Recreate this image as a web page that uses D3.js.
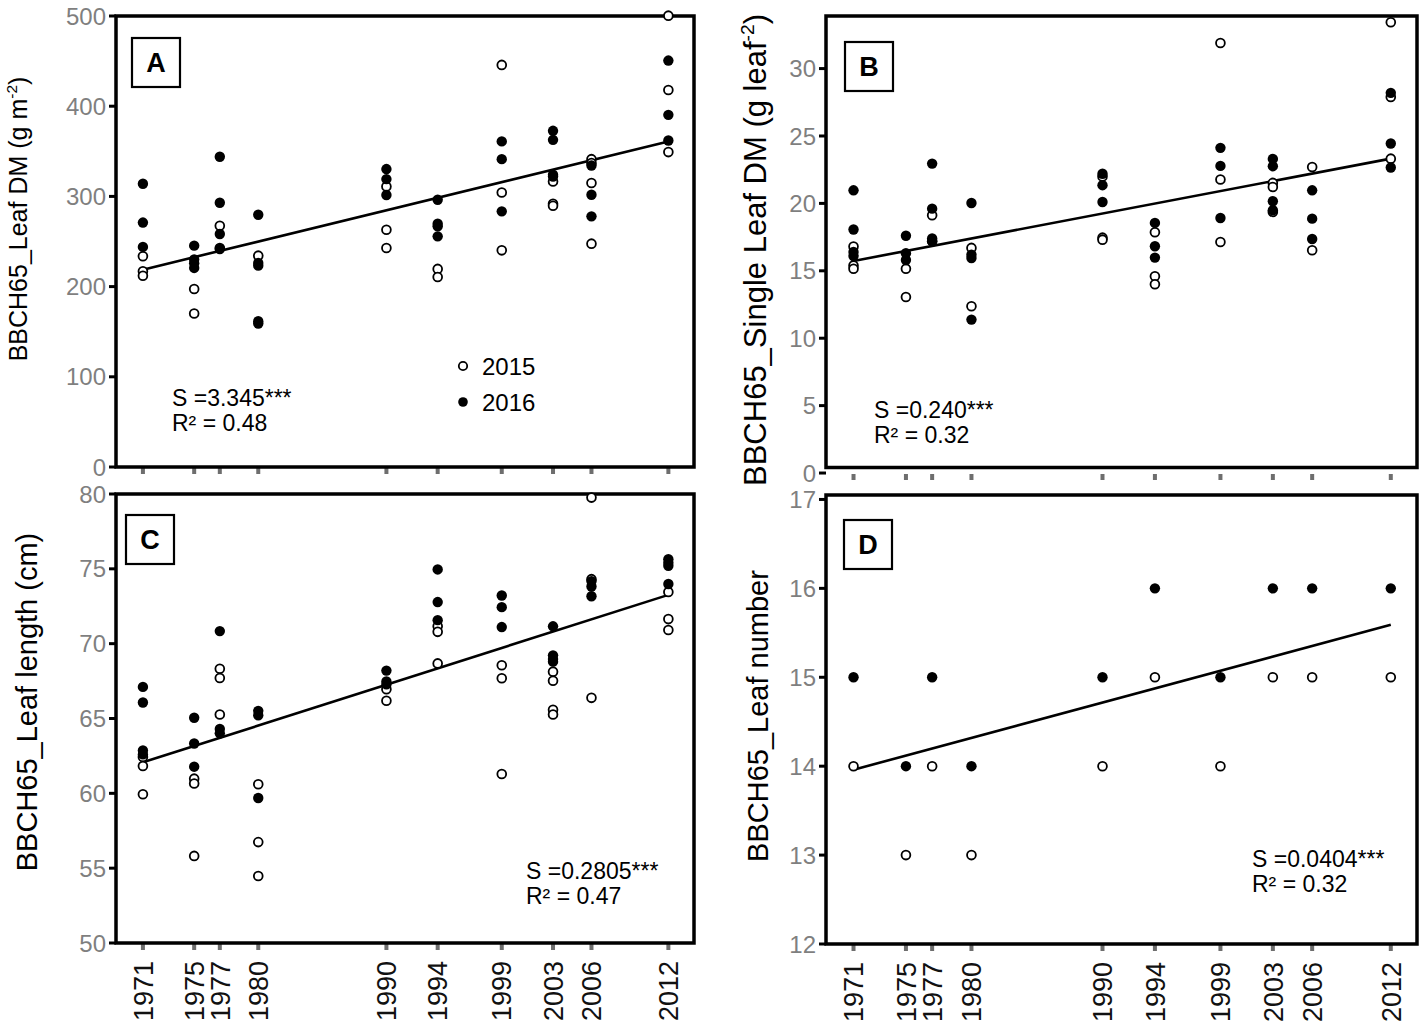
<!DOCTYPE html>
<html>
<head>
<meta charset="utf-8">
<script src="https://cdn.jsdelivr.net/npm/d3@7"></script>
<style>
  body { margin: 0; background: #fff; }
  text { font-family: "Liberation Sans", Arial, sans-serif; }
</style>
</head>
<body>
<svg id="chart"></svg>
<script>
const width = 1421;
const height = 1032;

// sampling years (x axis)
const years = [1971, 1975, 1977, 1980, 1990, 1994, 1999, 2003, 2006, 2012];

// A - leaf DM (g m-2), one list of replicates per year
const leafDM2015 = [[233.6, 217, 212], [197.4, 170.1], [267.5, 242.8], [234.3], [311, 263, 242.8],
  [219.6, 210.7], [445.8, 304.4, 240.2], [316.6, 291.9, 289.7], [341.3, 336.9, 314.8, 247.6], [500.4, 418, 349.1]];
const leafDM2016 = [[314, 271, 244], [245.4, 230, 226, 220.7], [344, 293, 258.3, 241.7], [279.7, 226.2, 223.2, 161.6, 159],
  [330.3, 319.2, 301.5], [296.3, 269.7, 266.8, 255.7], [361, 341.3, 283.4], [372.7, 362.7, 324, 322.1],
  [334.3, 301.8, 277.9], [450.6, 390.4, 362]];
const leafDMFit = [218.8, 360.9];

// B - single leaf DM
const singleDM2015 = [[16.8, 15.4, 15.15], [15.16, 13.06], [19.12, 17.2], [16.7, 12.37], [22.0, 17.46, 17.31],
  [17.86, 14.59, 14.0], [31.9, 21.77, 17.14], [21.52, 21.22, 19.37], [22.7, 16.52], [33.44, 27.9, 23.32]];
const singleDM2016 = [[20.97, 18.06, 16.4, 16.1], [17.6, 16.3, 15.8], [22.95, 19.61, 17.4, 17.2], [20.03, 16.2, 15.95, 11.38],
  [22.2, 21.35, 20.1], [18.55, 16.82, 15.98], [24.12, 22.78, 18.92], [23.3, 22.76, 20.16, 19.49],
  [20.97, 18.87, 17.36], [28.2, 24.44, 22.66]];
const singleDMFit = [15.73, 23.32];

// C - leaf length (cm)
const length2015 = [[62.43, 61.83, 59.94], [60.98, 60.66, 55.82], [68.32, 67.71, 65.27], [60.61, 56.74, 54.48],
  [66.96, 66.19], [71.16, 70.79, 68.68], [68.56, 67.69, 61.29], [68.13, 67.52, 65.58, 65.27],
  [79.76, 74.31, 66.38], [73.46, 71.64, 70.91]];
const length2016 = [[67.11, 66.07, 62.87, 62.6], [65.05, 63.33, 61.78], [70.84, 64.3, 64.01], [65.51, 65.22, 59.69],
  [68.2, 67.47, 67.28], [74.96, 72.78, 71.57], [73.22, 72.44, 71.11], [71.16, 69.22, 68.97, 68.8],
  [74.18, 73.82, 73.17], [75.64, 75.4, 75.2, 73.99]];
const lengthFit = [62.07, 73.26];

// D - leaf number
const number2015 = [[14], [13], [14], [13], [14], [15], [14], [15], [15], [15]];
const number2016 = [[15], [14], [15], [14], [15], [16], [15], [16], [16], [16]];
const numberFit = [13.96, 15.59];

const svg = d3.select("#chart").attr("width", width).attr("height", height);

const panels = [
  { letter: "A", left: 116, right: 694, top: 16, bottom: 467, yDomain: [0, 500], yTicks: [0, 100, 200, 300, 400, 500],
    open: leafDM2015, filled: leafDM2016, fit: leafDMFit, letterPos: [132, 38], markY: 471, yearLabels: false,
    title: ["BBCH65_Leaf DM (g m", "-2", ")"], titlePos: [27, 219], titleSize: 25,
    stat: ["S =3.345***", "R² = 0.48"], statPos: [172, 406] },
  { letter: "B", left: 826, right: 1417, top: 16, bottom: 467.5, yDomain: [0.41, 33.9], yTicks: [0, 5, 10, 15, 20, 25, 30],
    open: singleDM2015, filled: singleDM2016, fit: singleDMFit, letterPos: [845, 42], markY: 477, yearLabels: false,
    title: ["BBCH65_Single Leaf DM (g leaf", "-2", ")"], titlePos: [766, 250], titleSize: 31,
    stat: ["S =0.240***", "R² = 0.32"], statPos: [874, 418] },
  { letter: "C", left: 116, right: 694, top: 494, bottom: 943, yDomain: [50, 80], yTicks: [50, 55, 60, 65, 70, 75, 80],
    open: length2015, filled: length2016, fit: lengthFit, letterPos: [126, 515], markY: 947, yearLabels: true,
    title: ["BBCH65_Leaf length (cm)"], titlePos: [37, 702], titleSize: 29,
    stat: ["S =0.2805***", "R² = 0.47"], statPos: [526, 879] },
  { letter: "D", left: 826, right: 1417, top: 495, bottom: 944, yDomain: [12, 17.05], yTicks: [12, 13, 14, 15, 16, 17],
    open: number2015, filled: number2016, fit: numberFit, letterPos: [844, 520], markY: 948, yearLabels: true,
    title: ["BBCH65_Leaf number"], titlePos: [768, 716], titleSize: 29,
    stat: ["S =0.0404***", "R² = 0.32"], statPos: [1252, 867] }
];

panels.forEach(drawPanel);

function flatten(series) {
  return series.flatMap((vals, i) => vals.map((v) => ({ year: years[i], value: v })));
}

function drawPanel(p) {
  const x = d3.scaleLinear().domain([1968.9, 2014]).range([p.left, p.right]);
  const y = d3.scaleLinear().domain(p.yDomain).range([p.bottom, p.top]);
  const g = svg.append("g");

  // y ticks + grey labels
  const yt = g.append("g").selectAll("g").data(p.yTicks).join("g")
    .attr("transform", (d) => `translate(0,${y(d)})`);
  yt.append("line").attr("x1", p.left - 7).attr("x2", p.left)
    .attr("stroke", "#000").attr("stroke-width", 3);
  yt.append("text").attr("x", p.left - 10).attr("dy", "0.36em")
    .attr("text-anchor", "end").attr("font-size", 24).attr("fill", "#7f7f7f")
    .text((d) => d);

  // small grey year marks under the frame
  g.append("g").selectAll("rect").data(years).join("rect")
    .attr("x", (d) => x(d) - 2).attr("y", p.markY - 3)
    .attr("width", 4).attr("height", 6).attr("fill", "#6e6e6e");

  if (p.yearLabels) {
    g.append("g").selectAll("text").data(years).join("text")
      .attr("transform", (d) => `translate(${x(d)},${p.bottom + 18}) rotate(-90)`)
      .attr("text-anchor", "end").attr("dy", "0.36em")
      .attr("font-size", 27).attr("fill", "#111")
      .text((d) => d);
  }

  // frame
  g.append("rect").attr("x", p.left).attr("y", p.top)
    .attr("width", p.right - p.left).attr("height", p.bottom - p.top)
    .attr("fill", "none").attr("stroke", "#000").attr("stroke-width", 3.5);

  // regression line
  g.append("line")
    .attr("x1", x(years[0])).attr("y1", y(p.fit[0]))
    .attr("x2", x(years[years.length - 1])).attr("y2", y(p.fit[1]))
    .attr("stroke", "#000").attr("stroke-width", 2.6);

  // points: 2015 open, 2016 filled
  g.append("g").selectAll("circle").data(flatten(p.open)).join("circle")
    .attr("cx", (d) => x(d.year)).attr("cy", (d) => y(d.value)).attr("r", 4.4)
    .attr("fill", "#fff").attr("stroke", "#000").attr("stroke-width", 1.8);
  g.append("g").selectAll("circle").data(flatten(p.filled)).join("circle")
    .attr("cx", (d) => x(d.year)).attr("cy", (d) => y(d.value)).attr("r", 5.2)
    .attr("fill", "#000");

  // panel letter
  g.append("rect").attr("x", p.letterPos[0]).attr("y", p.letterPos[1])
    .attr("width", 48).attr("height", 49)
    .attr("fill", "#fff").attr("stroke", "#000").attr("stroke-width", 2.2);
  g.append("text").attr("x", p.letterPos[0] + 24).attr("y", p.letterPos[1] + 34)
    .attr("text-anchor", "middle").attr("font-size", 27).attr("font-weight", "bold")
    .text(p.letter);

  // stats
  g.append("g").selectAll("text").data(p.stat).join("text")
    .attr("x", p.statPos[0]).attr("y", (d, i) => p.statPos[1] + i * 24.5)
    .attr("font-size", 23).attr("fill", "#000")
    .text((d) => d);

  // axis title
  const t = g.append("text")
    .attr("transform", `translate(${p.titlePos[0]},${p.titlePos[1]}) rotate(-90)`)
    .attr("text-anchor", "middle").attr("font-size", p.titleSize).attr("fill", "#000");
  t.append("tspan").text(p.title[0]);
  if (p.title.length > 1) {
    t.append("tspan").attr("font-size", p.titleSize * 0.62).attr("dy", -p.titleSize * 0.4).text(p.title[1]);
    t.append("tspan").attr("dy", p.titleSize * 0.4).text(p.title[2]);
  }
}

// legend (panel A)
const legend = svg.append("g");
const legendItems = ["2015", "2016"];
legend.selectAll("circle").data(legendItems).join("circle")
  .attr("cx", 463).attr("cy", (d, i) => 366 + i * 36)
  .attr("r", (d, i) => (i === 0 ? 4.2 : 4.8))
  .attr("fill", (d, i) => (i === 0 ? "#fff" : "#000"))
  .attr("stroke", "#000").attr("stroke-width", (d, i) => (i === 0 ? 1.8 : 0));
legend.selectAll("text").data(legendItems).join("text")
  .attr("x", 482).attr("y", (d, i) => 374.5 + i * 36)
  .attr("font-size", 24).text((d) => d);
</script>
</body>
</html>
